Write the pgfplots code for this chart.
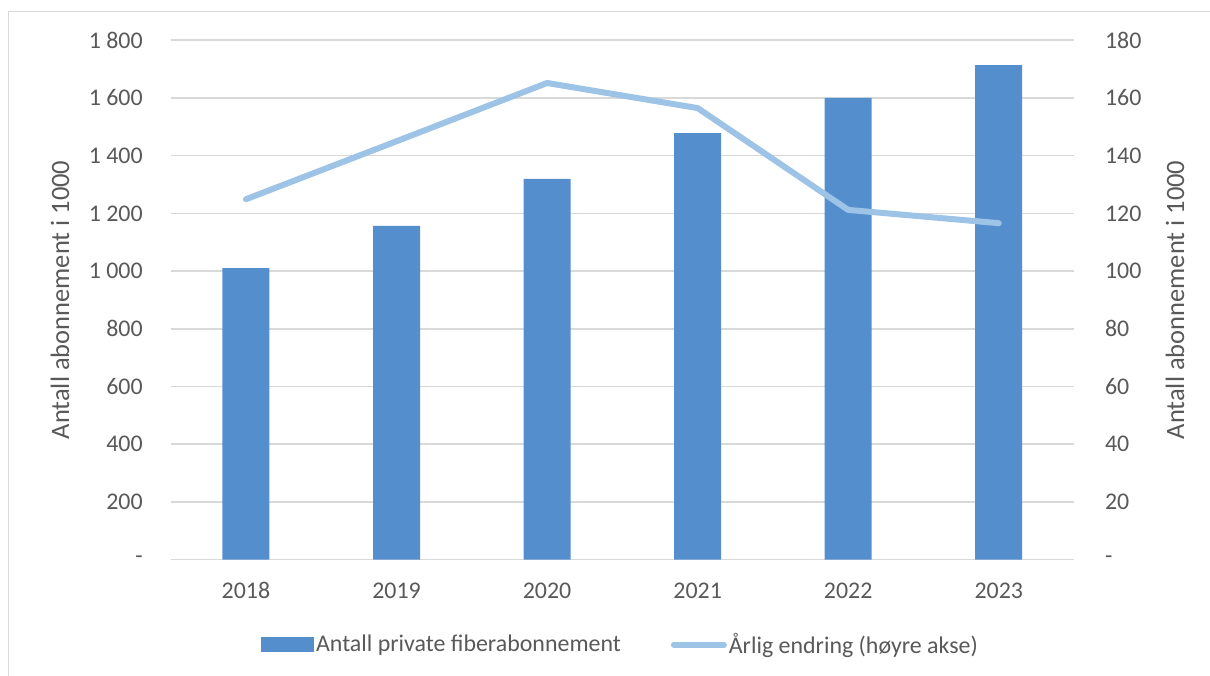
\documentclass[border=0pt]{standalone}
\usepackage{pgfplots}
\pgfplotsset{compat=1.18}
\usepackage{fontspec}
\setmainfont{Carlito}
\definecolor{barblue}{RGB}{85,142,205}
\definecolor{lineblue}{RGB}{157,195,230}
\definecolor{txt}{RGB}{89,89,89}
\definecolor{gridgray}{RGB}{217,217,217}
\begin{document}
\begin{tikzpicture}[x=1bp,y=1bp]
\useasboundingbox (0,0) rectangle (605,337.5);
\fill[white] (0,0) rectangle (605,337.5);
\draw[gridgray, line width=0.8bp] (4.15,-5) -- (4.15,331.65) -- (610,331.65);
\begin{axis}[
  at={(85.35bp,57.75bp)}, anchor=south west,
  scale only axis, width=451.65bp, height=259.6bp,
  xmin=-0.5, xmax=5.5, ymin=0, ymax=1800,
  xtick={0,1,2,3,4,5},
  xticklabels={2018,2019,2020,2021,2022,2023},
  ytick={0,200,400,600,800,1000,1200,1400,1600,1800},
  yticklabels={-,200,400,600,800,1~000,1~200,1~400,1~600,1~800},
  axis y line*=left, axis x line*=bottom,
  y axis line style={draw=none},
  x axis line style={draw=gridgray, line width=0.8bp},
  major tick length=0pt,
  xmajorgrids=false, ymajorgrids=true,
  major grid style={draw=gridgray, line width=0.8bp},
  tick label style={font=\fontsize{12}{14}\selectfont, text=txt},
  /pgf/number format/assume math mode=true,
  yticklabel style={xshift=-10.5bp},
  xticklabel style={yshift=-8bp},
  ylabel={Antall abonnement i 1000},
  every axis y label/.style={at={(axis description cs:-0.1225,0.5)}, rotate=90, anchor=center, font=\fontsize{13.3}{15}\selectfont, text=txt},
]
\addplot[ybar, bar width=23.5bp, fill=barblue, draw=none] coordinates {
(0,1010) (1,1157) (2,1320) (3,1478) (4,1600) (5,1714)
};
\end{axis}
\begin{axis}[
  at={(85.35bp,57.75bp)}, anchor=south west,
  scale only axis, width=451.65bp, height=259.6bp,
  xmin=-0.5, xmax=5.5, ymin=0, ymax=180,
  axis y line*=right, axis x line=none,
  y axis line style={draw=none},
  major tick length=0pt,
  ytick={0,20,40,60,80,100,120,140,160,180},
  yticklabels={-,20,40,60,80,100,120,140,160,180},
  tick label style={font=\fontsize{12}{14}\selectfont, text=txt},
  /pgf/number format/assume math mode=true,
  yticklabel style={xshift=12bp},
  ylabel={Antall abonnement i 1000},
  every axis y label/.style={at={(axis description cs:1.1118,0.5)}, rotate=90, anchor=center, font=\fontsize{13.3}{15}\selectfont, text=txt},
  legend columns=2,
  legend style={at={(0.498,-0.164)}, anchor=center, draw=none, fill=none,
    font=\fontsize{12}{14}\selectfont, text=txt,
    /tikz/every even column/.style={column sep=24bp},
    inner sep=0pt, nodes={inner sep=1bp}},
]
\addlegendimage{legend image code/.code={\fill[barblue] (0bp,-3.5bp) rectangle (26bp,3.5bp);}}
\addlegendentry{Antall private fiberabonnement}
\addplot[lineblue, line width=3bp, line cap=round, line join=round,
  legend image code/.code={\draw[lineblue, line width=3bp, line cap=round] (1.5bp,0) -- (26.5bp,0);}]
  coordinates {(0,124.9) (1,145) (2,165.2) (3,156.5) (4,121.2) (5,116.6)};
\addlegendentry{Årlig endring (høyre akse)}
\end{axis}
\end{tikzpicture}
\end{document}
